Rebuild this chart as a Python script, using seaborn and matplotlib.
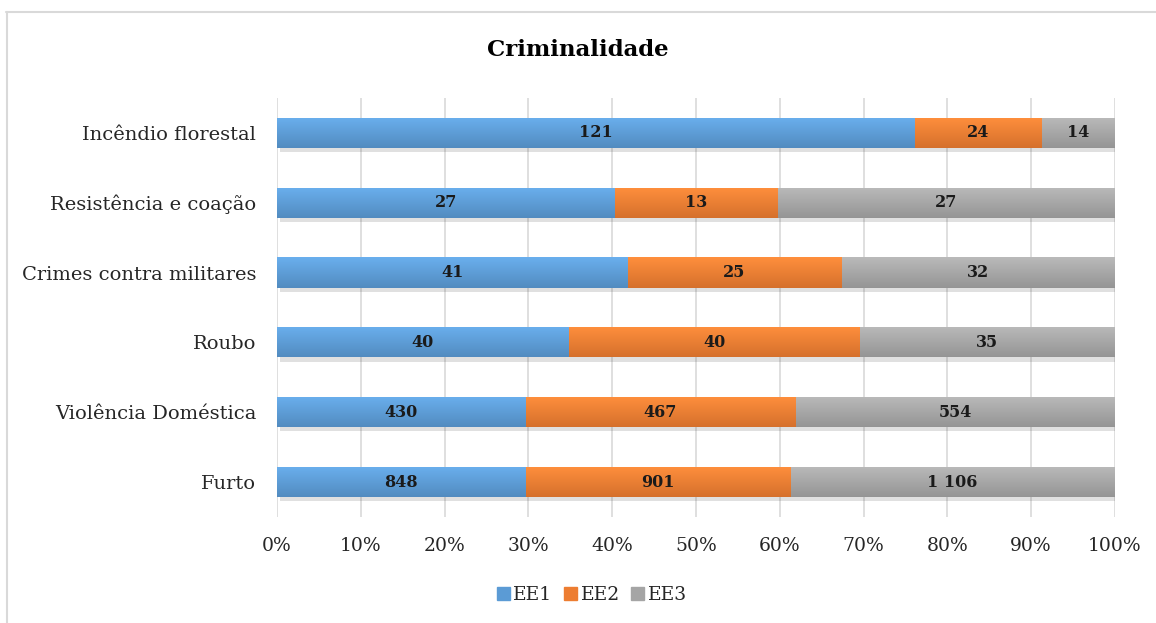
import numpy as np
import pandas as pd
import matplotlib
matplotlib.use("Agg")
import matplotlib.pyplot as plt
import matplotlib.patheffects as pe
from matplotlib.colors import to_rgb
import seaborn as sns

categories = ["Incêndio florestal", "Resistência e coação", "Crimes contra militares",
              "Roubo", "Violência Doméstica", "Furto"]
ee1 = [121, 27, 41, 40, 430, 848]
ee2 = [24, 13, 25, 40, 467, 901]
ee3 = [14, 27, 32, 35, 554, 1106]
series = ["EE1", "EE2", "EE3"]
colors = ["#5B9BD5", "#ED7D31", "#A5A5A5"]

sns.set_theme(style="white")
plt.rcParams["font.family"] = ["DejaVu Serif", "Liberation Serif"]

df = pd.DataFrame({"cat": categories, "EE1": ee1, "EE2": ee2, "EE3": ee3})
tot = df[series].sum(axis=1)
pct = df[series].div(tot, axis=0) * 100
cum = pct.cumsum(axis=1)

fig = plt.figure(figsize=(11.56, 6.23), dpi=100)
ax = fig.add_axes([0.2396, 0.170, 0.7249, 0.673])

# draw cumulative bars from the back (EE3) to the front (EE1)
order = list(reversed(list(zip(series, colors))))
for s, c in order:
    sns.barplot(x=cum[s], y=df["cat"], color=c, width=0.43, ax=ax,
                orient="h", saturation=1, edgecolor="none")

ax.set_xlim(0, 100)
ax.set_ylim(5.5, -0.5)

# soft shadow only on the full-width back bars, gradient fill on every bar
n = len(df)
for k, p in enumerate(ax.patches):
    c = np.array(to_rgb(p.get_facecolor()))
    if k < n:
        p.set_path_effects([pe.SimplePatchShadow(offset=(2, -3), alpha=0.15), pe.Normal()])
    top = np.clip(c * 1.08 + 0.03, 0, 1)
    bot = np.clip(c * 0.90, 0, 1)
    t = np.linspace(0, 1, 64)[:, None]
    grad = (top[None, :] * (1 - t) + bot[None, :] * t)[:, None, :]
    x0, y0 = p.get_x(), p.get_y()
    w, h = p.get_width(), p.get_height()
    im = ax.imshow(grad, extent=(x0, x0 + w, y0 + h, y0), aspect="auto",
                   zorder=1 + k * 0.001, interpolation="bilinear")
    im.set_clip_path(p)
ax.set_xlim(0, 100)
ax.set_ylim(5.5, -0.5)

for i in range(n):
    start = 0
    for s in series:
        w = pct.loc[i, s]
        v = df.loc[i, s]
        txt = f"{v:,}".replace(",", " ")
        ax.text(start + w / 2, i, txt, ha="center", va="center", zorder=5,
                fontsize=11.5, fontweight="bold", color="#1a1a1a")
        start += w

ax.set_xticks(np.arange(0, 101, 10))
ax.set_xticklabels([f"{t}%" for t in range(0, 101, 10)])
ax.grid(axis="x", color="#D9D9D9", linewidth=1.2)
ax.set_axisbelow(True)
for sp in ax.spines.values():
    sp.set_visible(False)
ax.set_xlabel("")
ax.set_ylabel("")
ax.tick_params(axis="both", length=0, labelsize=13.5, colors="#262626")
ax.tick_params(axis="y", labelsize=14, pad=15)
ax.tick_params(axis="x", pad=14)

fig.suptitle("Criminalidade", y=0.937, fontsize=16.5, fontweight="bold", color="black")

handles = [plt.Rectangle((0, 0), 1, 1, color=c) for c in colors]
fig.legend(handles, series, loc="center", bbox_to_anchor=(0.512, 0.045), ncol=3,
           frameon=False, fontsize=13.5, handlelength=0.7, handleheight=0.7,
           handletextpad=0.2, columnspacing=0.6)

# outer chart border
fig.add_artist(plt.Line2D([0.005, 1.0], [0.981, 0.981], color="#D9D9D9", linewidth=1.5,
                          transform=fig.transFigure))
fig.add_artist(plt.Line2D([0.006, 0.006], [0.0, 0.981], color="#D9D9D9", linewidth=1.5,
                          transform=fig.transFigure))

fig.savefig("out.png", dpi=100)
